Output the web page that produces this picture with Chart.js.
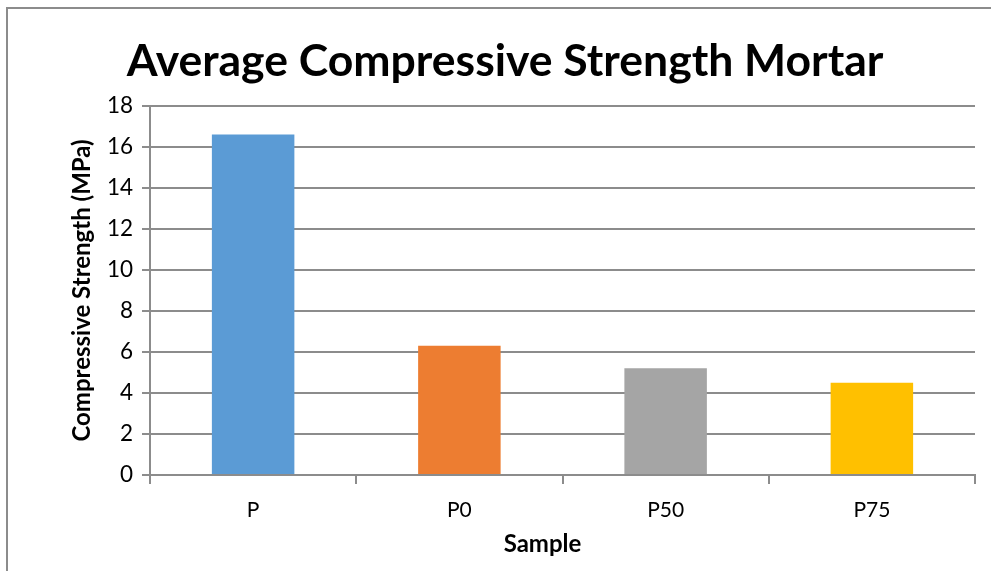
<!DOCTYPE html>
<html>
<head>
<meta charset="utf-8">
<script src="https://cdn.jsdelivr.net/npm/chart.js@4.4.1/dist/chart.umd.min.js"></script>
<style>
  html, body { margin: 0; padding: 0; background: #fff; }
  #wrap { position: relative; width: 991px; height: 571px; overflow: hidden; }
  #frame {
    position: absolute; left: 6px; top: 7px; width: 1200px; height: 800px;
    border-left: 2px solid #8c8c8c; border-top: 2px solid #8c8c8c;
  }
  #chart { position: absolute; left: 0; top: 0; }
</style>
</head>
<body>
<div id="wrap">
  <div id="frame"></div>
  <canvas id="chart" width="991" height="571"></canvas>
</div>
<script>
// Average compressive strength of mortar samples (MPa)
const samples = ["P", "P0", "P50", "P75"];
const strength = [16.6, 6.3, 5.2, 4.5];
const barColors = ["#5B9BD5", "#ED7D31", "#A5A5A5", "#FFC000"];
const yMin = 0, yMax = 18, yStep = 2;
const xTitle = "Sample";

const FONT = "Lato, 'Open Sans', sans-serif";
const GRID = "#8c8c8c";

// x axis title is drawn a bit left of the plot centre, like the original
const xTitlePlugin = {
  id: "xTitle",
  afterDraw(chart) {
    const { ctx, chartArea, scales } = chart;
    ctx.save();
    ctx.font = `bold 24px ${FONT}`;
    ctx.fillStyle = "#000";
    ctx.textAlign = "center";
    ctx.textBaseline = "middle";
    ctx.fillText(xTitle, (chartArea.left + chartArea.right) / 2 - 20, scales.x.bottom - 27);
    ctx.restore();
  },
};

new Chart(document.getElementById("chart").getContext("2d"), {
  type: "bar",
  data: {
    labels: samples,
    datasets: [{
      label: "Compressive Strength",
      data: strength,
      backgroundColor: barColors,
      borderWidth: 0,
      barPercentage: 0.4,
      categoryPercentage: 1,
    }],
  },
  plugins: [xTitlePlugin],
  options: {
    responsive: false,
    animation: false,
    layout: { padding: { left: 35, right: 16, top: 0, bottom: 0 } },
    plugins: {
      legend: { display: false },
      tooltip: { enabled: false },
      title: {
        display: true,
        text: "Average Compressive Strength Mortar",
        color: "#000",
        font: { family: FONT, size: 44.5, weight: "bold" },
        padding: { top: 35, bottom: 17.5 },
      },
    },
    scales: {
      x: {
        grid: {
          display: true,
          drawOnChartArea: false,
          drawTicks: true,
          tickLength: 9,
          color: GRID,
          lineWidth: 2,
        },
        border: { display: true, color: GRID, width: 2 },
        ticks: { color: "#000", font: { family: FONT, size: 21 }, padding: 14 },
        title: { display: false },
        afterFit: (s) => { s.height = 96; },
      },
      y: {
        min: yMin,
        max: yMax,
        ticks: { stepSize: yStep, color: "#000", font: { family: FONT, size: 22.5 }, padding: 9 },
        grid: { color: GRID, lineWidth: 2, tickLength: 8 },
        border: { display: true, color: GRID, width: 2 },
        title: {
          display: true,
          text: "Compressive Strength (MPa)",
          color: "#000",
          font: { family: FONT, size: 24, weight: "bold" },
          padding: { top: 33, bottom: 0 },
        },
        afterFit: (s) => { s.width = 115; },
      },
    },
  },
});
</script>
</body>
</html>
